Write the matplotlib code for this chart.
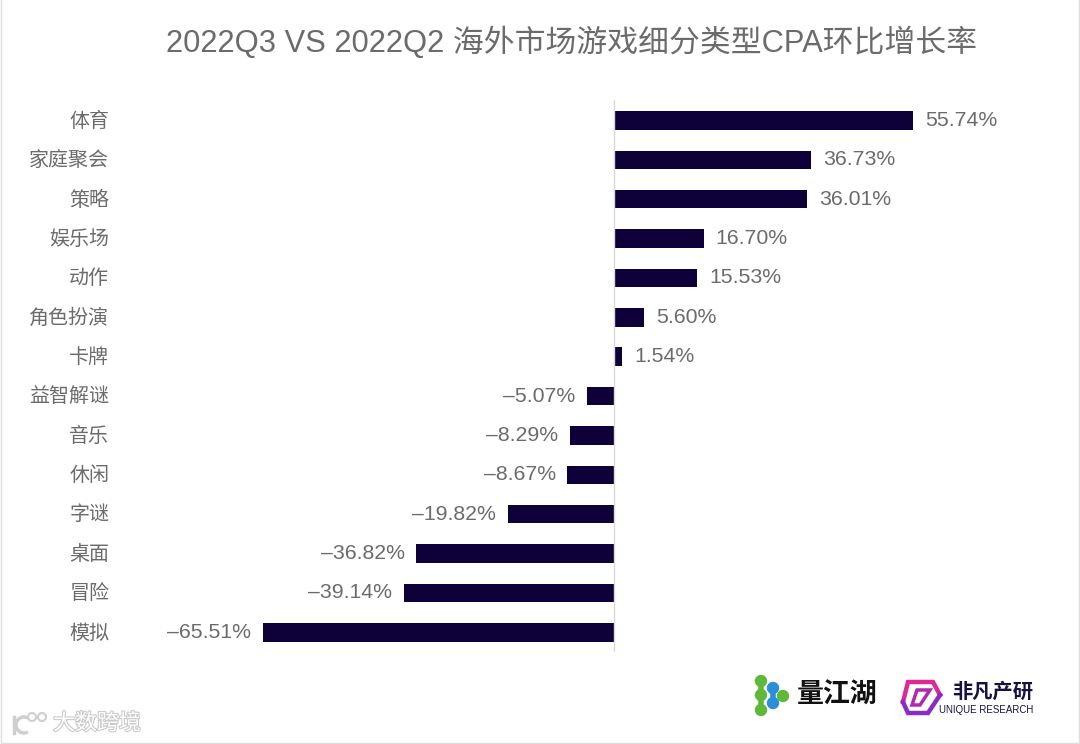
import matplotlib
matplotlib.use("Agg")
import matplotlib.pyplot as plt
import matplotlib.patheffects as pe
from matplotlib.patches import Arc, Circle, Polygon, Rectangle
from matplotlib.transforms import ScaledTranslation

plt.rcParams['font.family'] = ['Liberation Sans', 'Noto Sans CJK SC', 'DejaVu Sans']

categories = ["体育", "家庭聚会", "策略", "娱乐场", "动作", "角色扮演", "卡牌",
              "益智解谜", "音乐", "休闲", "字谜", "桌面", "冒险", "模拟"]
values = [55.74, 36.73, 36.01, 16.70, 15.53, 5.60, 1.54,
          -5.07, -8.29, -8.67, -19.82, -36.82, -39.14, -65.51]
title = "2022Q3 VS 2022Q2 海外市场游戏细分类型CPA环比增长率"

W, H = 1080, 744
text_color = "#6b6b6b"
bar_color = "#0e0038"

fig = plt.figure(figsize=(W / 100, H / 100), dpi=100)

# axes placed in pixels, x=0 sits at px 614
left, right, top, bottom = 130, 1000, 100, 652
ax = fig.add_axes([left / W, 1 - bottom / H, (right - left) / W, (bottom - top) / H])
scale = 5.364
ax.set_xlim((left - 614) / scale, (right - 614) / scale)
ax.set_ylim(13.5, -0.52)

ypos = list(range(len(categories)))
ax.axvline(0, color="#d9d9d9", lw=1, zorder=3)
bars = ax.barh(ypos, values, height=0.47, color=bar_color, zorder=2)
ax.bar_label(bars, labels=[f"{v:.2f}%".replace("-", "–") for v in values],
             padding=8.5, fontsize=15.3, color=text_color)

ax.set_yticks(ypos)
ax.set_yticklabels(categories, fontsize=14.4, color=text_color)
ax.tick_params(axis="y", length=0, pad=15)
# labels sit a pixel higher than the bar centres
shift = ScaledTranslation(0, 1.2 / 100, fig.dpi_scale_trans)
for lab in ax.get_yticklabels():
    lab.set_transform(lab.get_transform() + shift)
ax.set_xticks([])
for s in ax.spines.values():
    s.set_visible(False)
ax.patch.set_alpha(0)

fig.text(572 / W, 1 - 43 / H, title, fontsize=22.2, color=text_color, ha="center", va="center")

# overlay in pixel coordinates: border, logos, watermark
ov = fig.add_axes([0, 0, 1, 1], zorder=-1)
ov.set_xlim(0, W)
ov.set_ylim(H, 0)
ov.axis("off")
ov.add_patch(Rectangle((0.5, -5), W - 1.5, H + 3.5, fill=False, ec="#dedede", lw=1))

# 量江湖 mark
green, blue = "#5fb83a", "#2b8fd8"
ov.plot([761, 761], [681, 710], color=green, lw=4)
ov.plot([773, 773], [688, 703], color=blue, lw=4)
for cx, cy in [(761, 681), (761, 695), (761, 710), (783, 696)]:
    ov.add_patch(Circle((cx, cy), 5.5, color=green))
for cx, cy in [(773, 688), (773, 703)]:
    ov.add_patch(Circle((cx, cy), 5.5, color=blue))
ov.text(837, 696, "量江湖", fontsize=19.4, fontweight="bold", color="#111111", ha="center", va="center")

# 非凡产研 mark
ov.plot([903, 908, 933, 940], [702, 682, 682, 695], color="#dd2a93", lw=3.2, solid_joinstyle="miter")
ov.plot([940, 928, 908, 903], [695, 713, 713, 702], color="#8a2bc4", lw=3.2, solid_joinstyle="miter")
ov.add_patch(Polygon([(917, 690), (930, 690), (920, 705), (912, 705)],
                     closed=True, fill=False, ec="#b02ab0", lw=2.5))
ov.text(993, 692, "非凡产研", fontsize=14.6, fontweight="bold", color="#1a1040", ha="center", va="center")
ov.text(986.5, 710, "UNIQUE RESEARCH", fontsize=7, color="#1a1040", ha="center", va="center")

# watermark
wm_fx = [pe.withStroke(linewidth=1.5, foreground="#c8c8c8")]
ov.text(97, 724, "大数跨境", fontsize=15.8, color="white", ha="center", va="center", path_effects=wm_fx)
ov.plot([14, 14], [717, 733], color="#cfcfcf", lw=2.5)
ov.add_patch(Arc((24, 725), 16, 16, theta1=60, theta2=300, color="#cfcfcf", lw=2.5))
ov.add_patch(Circle((32, 717), 4, fill=False, ec="#cfcfcf", lw=1.5))
ov.add_patch(Circle((42, 717), 4, fill=False, ec="#cfcfcf", lw=1.5))

fig.savefig("out.png", dpi=100)
